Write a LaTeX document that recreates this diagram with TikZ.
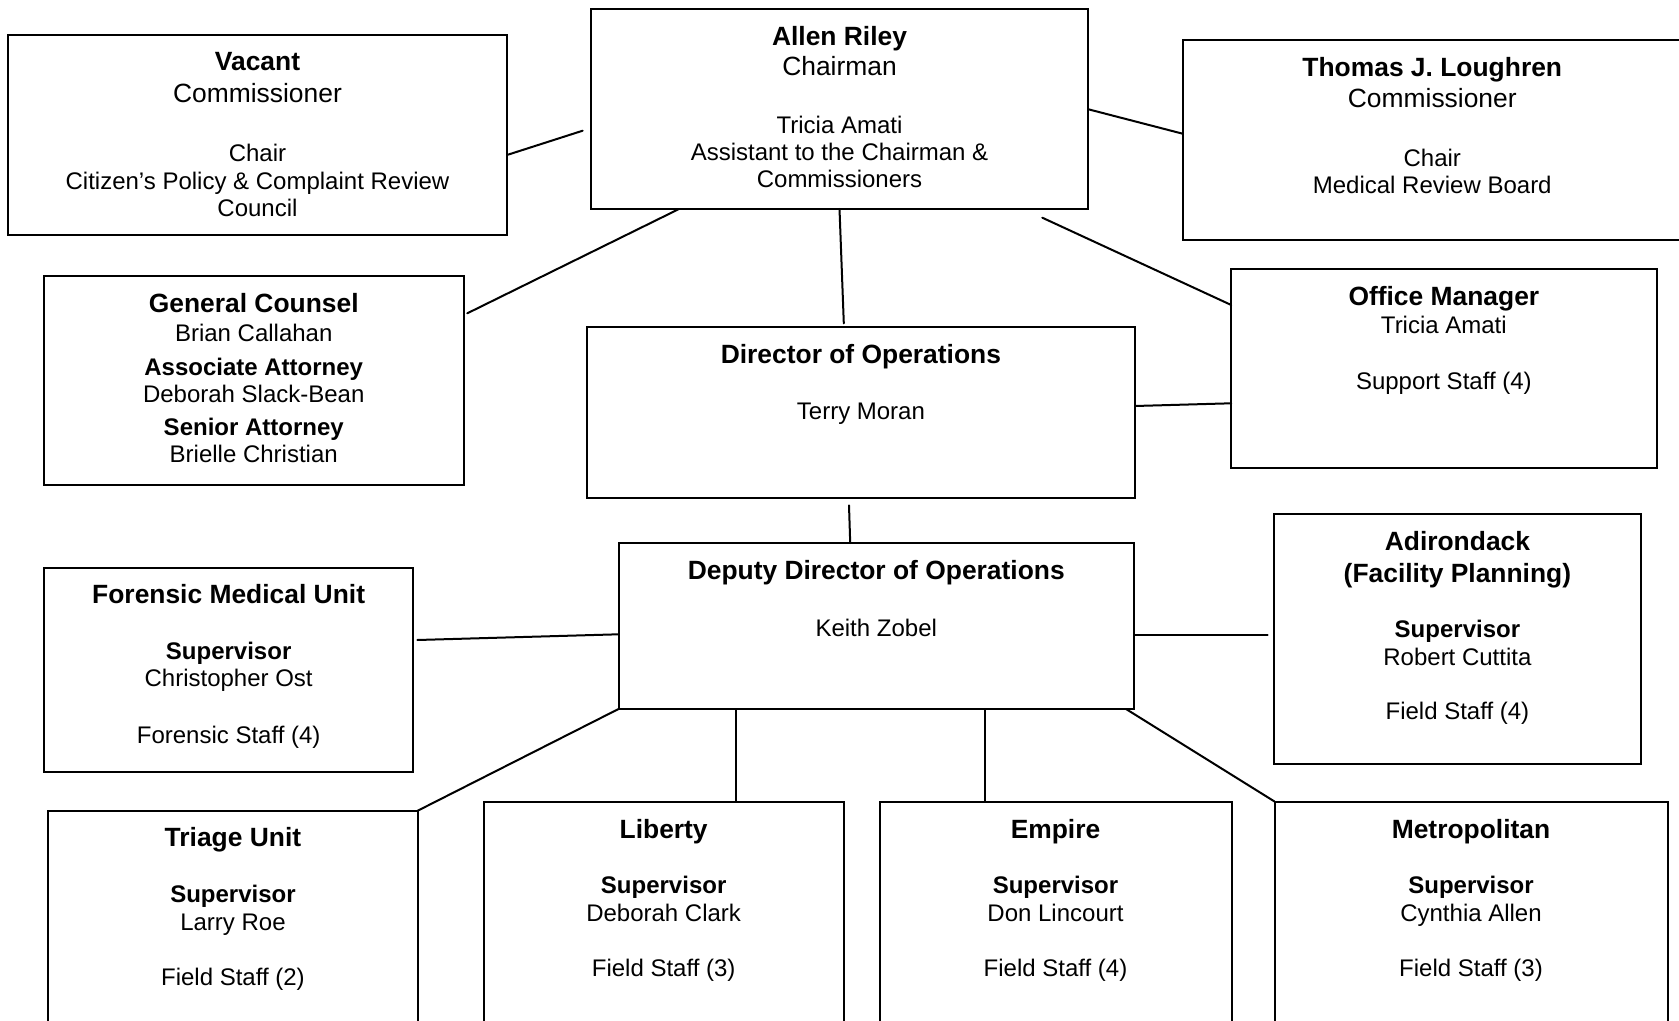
\documentclass[tikz,border=0pt]{standalone}
\usepackage{fontspec}
\setmainfont{Liberation Sans}
\usetikzlibrary{calc}
\newcommand{\hd}[1]{{\fontsize{13.2pt}{15pt}\selectfont\bfseries #1}}
\newcommand{\lgt}[1]{{\fontsize{13.2pt}{15pt}\selectfont #1}}
\newcommand{\sbh}[1]{{\bfseries #1}}
\begin{document}
\begin{tikzpicture}[x=0.5pt,y=-0.5pt,
  bx/.style 2 args={draw=black,line width=1pt,rectangle,anchor=north west,inner sep=0pt,outer sep=0pt,
     minimum width=#1*0.5pt,minimum height=#2*0.5pt},
  txt/.style={anchor=north,align=center,inner sep=0pt,outer sep=0pt,font=\fontsize{12pt}{13.55pt}\selectfont},
  conn/.style={line width=1pt,line cap=round}]
\useasboundingbox (0,0) rectangle (1679,1021);
\clip (0,0) rectangle (1679,1021);

% boxes
\node[bx={499}{200}]   (vac)   at (8,35) {};
\node[bx={497}{199.5}] (allen) at (591,9.5) {};
\node[bx={498.5}{199.5}] (thom) at (1183,40.5) {};
\node[bx={419.5}{208.5}] (gc)  at (44,276.5) {};
\node[bx={548.2}{171}] (dir)   at (586.8,327) {};
\node[bx={425.3}{198.5}] (om)  at (1231.2,269.5) {};
\node[bx={515.5}{166}] (dep)   at (618.5,543) {};
\node[bx={369.3}{204.8}] (for) at (44,567.5) {};
\node[bx={366.2}{250}] (adi)   at (1274.3,514) {};
\node[bx={369.5}{240}] (tri)   at (48.2,810.7) {};
\node[bx={360.3}{240}] (lib)   at (483.5,801.5) {};
\node[bx={352}{240}]   (emp)   at (879.5,801.5) {};
\node[bx={393}{240}]   (met)   at (1274.5,801.5) {};

% texts
\node[txt,yshift=-8.9pt] (vac-t) at (vac.north)
  {\hd{Vacant}\\[2pt]\lgt{Commissioner}\\[16.4pt]Chair\\Citizen’s Policy \& Complaint Review\\Council};
\node[txt,yshift=-8.6pt] (allen-t) at (allen.north)
  {\hd{Allen Riley}\\[1.5pt]\lgt{Chairman}\\[15.3pt]Tricia Amati\\Assistant to the Chairman \&\\Commissioners};
\node[txt,yshift=-8.3pt] (thom-t) at (thom.north)
  {\hd{Thomas J. Loughren}\\[2pt]\lgt{Commissioner}\\[15.8pt]Chair\\Medical Review Board};
\node[txt,yshift=-8.5pt] (gc-t) at (gc.north)
  {\hd{General Counsel}\\[0.8pt]Brian Callahan\\[3.3pt]\sbh{Associate Attorney}\\Deborah Slack-Bean\\[3pt]\sbh{Senior Attorney}\\Brielle Christian};
\node[txt,yshift=-8.9pt] (dir-t) at (dir.north)
  {\hd{Director of Operations}\\[14.2pt]Terry Moran};
\node[txt,yshift=-8.4pt] (om-t) at (om.north)
  {\hd{Office Manager}\\[0.3pt]Tricia Amati\\[14.6pt]Support Staff (4)};
\node[txt,yshift=-8.9pt] (dep-t) at (dep.north)
  {\hd{Deputy Director of Operations}\\[14.6pt]Keith Zobel};
\node[txt,yshift=-8.4pt] (for-t) at (for.north)
  {\hd{Forensic Medical Unit}\\[14.6pt]\sbh{Supervisor}\\Christopher Ost\\[14.6pt]Forensic Staff (4)};
\node[txt,yshift=-8.9pt] (adi-t) at (adi.north)
  {\hd{Adirondack}\\[2pt]\hd{(Facility Planning)}\\[14.2pt]\sbh{Supervisor}\\[0.3pt]Robert Cuttita\\[13.7pt]Field Staff (4)};
\node[txt,yshift=-8.4pt] (tri-t) at (tri.north)
  {\hd{Triage Unit}\\[14.6pt]\sbh{Supervisor}\\Larry Roe\\[14.2pt]Field Staff (2)};
\node[txt,yshift=-8.9pt] (lib-t) at (lib.north)
  {\hd{Liberty}\\[14.2pt]\sbh{Supervisor}\\[0.3pt]Deborah Clark\\[13.7pt]Field Staff (3)};
\node[txt,yshift=-8.9pt] (emp-t) at (emp.north)
  {\hd{Empire}\\[14.2pt]\sbh{Supervisor}\\[0.3pt]Don Lincourt\\[13.7pt]Field Staff (4)};
\node[txt,yshift=-8.9pt] (met-t) at (met.north)
  {\hd{Metropolitan}\\[14.2pt]\sbh{Supervisor}\\[0.3pt]Cynthia Allen\\[13.7pt]Field Staff (3)};

% free ends of connectors
\coordinate (vacE)   at ($(allen.north west)+(-8.3,121.2)$);
\coordinate (gcE)    at ($(gc.north east)+(3.8,36.8)$);
\coordinate (dirE)   at ($(dir.north)+(-17.1,-3.6)$);
\coordinate (omS)    at ($(allen.south west)+(451.3,8.7)$);
\coordinate (depS)   at ($(dir.south west)+(262.2,7.4)$);
\coordinate (forE)   at ($(for.north east)+(4,72.5)$);
\coordinate (adiE)   at ($(adi.north west)+(-6.6,121)$);

% connectors
\draw[conn] ($(vac.north east)+(0,120)$) -- (vacE);
\draw[conn] ($(allen.north east)+(0,99.7)$) -- ($(thom.north west)+(0,93.3)$);
\draw[conn] ($(allen.south west)+(88,0)$) -- (gcE);
\draw[conn] (allen.south) -- (dirE);
\draw[conn] (omS) -- ($(om.north west)+(0,35.5)$);
\draw[conn] ($(dir.north east)+(0,79)$) -- ($(om.north west)+(0,133.8)$);
\draw[conn] (depS) -- ($(dep.north west)+(231.7,0)$);
\draw[conn] ($(dep.north west)+(0,91.3)$) -- (forE);
\draw[conn] ($(dep.north east)+(0,92)$) -- (adiE);
\draw[conn] (dep.south west) -- (tri.north east);
\draw[conn] ($(dep.south west)+(117.1,0)$) -- ($(lib.north west)+(252.1,0)$);
\draw[conn] ($(dep.south west)+(366.6,0)$) -- ($(emp.north west)+(105.6,0)$);
\draw[conn] ($(dep.south east)+(-8,0)$) -- (met.north west);
\end{tikzpicture}
\end{document}
